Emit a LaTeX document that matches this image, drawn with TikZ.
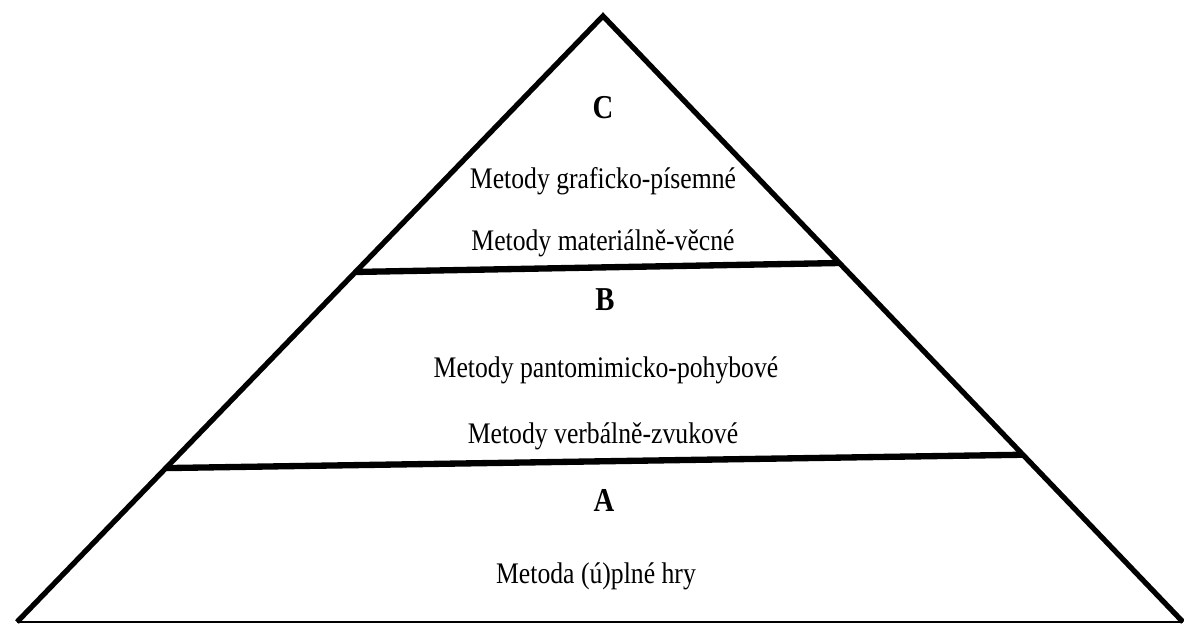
\documentclass[tikz,border=0pt]{standalone}
\usepackage{fontspec}
\setmainfont{Liberation Serif}
\usepackage{tikz}
\usetikzlibrary{calc}

\begin{document}
\begin{tikzpicture}[x=0.02cm,y=-0.02cm]
\pgfmathsetmacro{\topL}{0.4224}
\pgfmathsetmacro{\topR}{0.4076}
\pgfmathsetmacro{\lowL}{0.746}
\pgfmathsetmacro{\lowR}{0.724}

\tikzstyle{level}=[font=\fontsize{19}{21}\selectfont\bfseries]
\tikzstyle{method}=[font=\fontsize{17}{19}\selectfont]
\tikzstyle{divider}=[line width=3.6pt]
\newcommand{\narrow}[1]{\scalebox{0.86}[1]{#1}}

\useasboundingbox (0,0) rectangle (1184,626);
\coordinate (apex) at (603,16);
\coordinate (bl) at (17,622);
\coordinate (br) at (1183,622);

\draw[line width=3pt,line join=miter] (bl) -- (apex) -- (br);
\draw[line width=0.8pt] (bl) -- (br);
\draw[divider] ($(apex)!\topL!(bl)$) -- ($(apex)!\topR!(br)$);
\draw[divider] ($(apex)!\lowL!(bl)$) -- ($(apex)!\lowR!(br)$);

\node[level] (c) at (603,108) {\narrow{C}};
\node[method] (graf) at (603,181) {\narrow{Metody graficko-písemné}};
\node[method] (mat) at (603,243) {\narrow{Metody materiálně-věcné}};
\node[level] (b) at (605,300) {\narrow{B}};
\node[method] (panto) at (606,370) {\narrow{Metody pantomimicko-pohybové}};
\node[method] (verb) at (603,436) {\narrow{Metody verbálně-zvukové}};
\node[level] (a) at (604,500) {\narrow{A}};
\node[method] (hra) at (596,576) {\narrow{Metoda (ú)plné hry}};
\end{tikzpicture}
\end{document}
